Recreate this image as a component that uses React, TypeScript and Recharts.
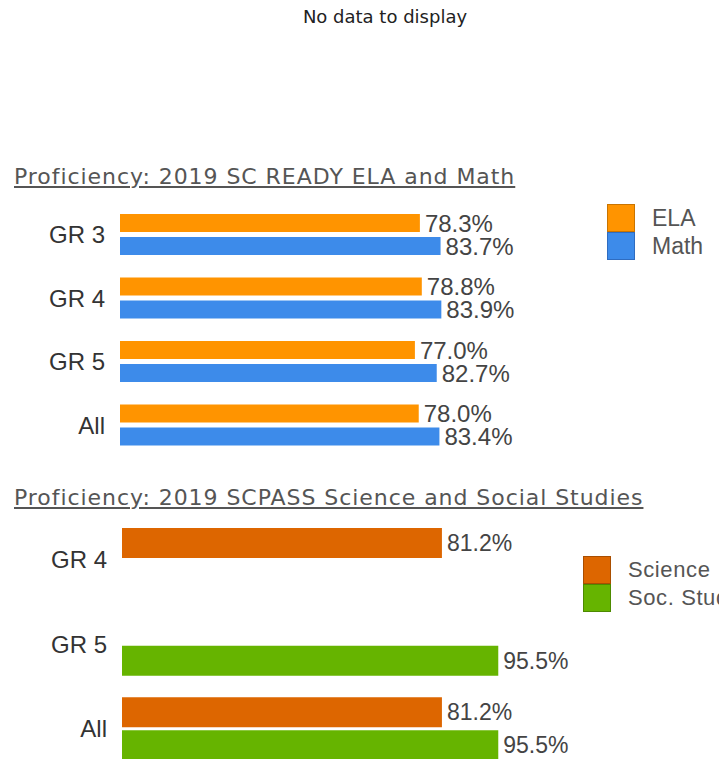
import { BarChart, Bar, XAxis, YAxis, LabelList, Legend } from "recharts";

// ELA / Math (2019 SC READY)
const readyGrades = ["GR 3", "GR 4", "GR 5", "All"];
const elaValues = [78.3, 78.8, 77.0, 78.0];
const mathValues = [83.7, 83.9, 82.7, 83.4];

// Science / Social Studies (2019 SCPASS)
const passGrades = ["GR 4", "GR 5", "All"];
const scienceValues: (number | null)[] = [81.2, null, 81.2];
const socValues: (number | null)[] = [null, 95.5, 95.5];

const readyData = readyGrades.map((g, i) => ({ grade: g, ela: elaValues[i], math: mathValues[i] }));
const passData = passGrades.map((g, i) => ({ grade: g, science: scienceValues[i], soc: socValues[i] }));

const colors = {
  ela: "#ff9400",
  elaBorder: "#c97400",
  math: "#3d8bea",
  mathBorder: "#2f6cc0",
  science: "#dd6600",
  scienceBorder: "#a94e00",
  soc: "#66b400",
  socBorder: "#4d8a00",
};

const pct = (v: any) => (v == null ? "" : `${Number(v).toFixed(1)}%`);

const titleStyle: React.CSSProperties = {
  position: "absolute",
  left: 14,
  fontFamily: "'DejaVu Sans', sans-serif",
  fontSize: 22,
  lineHeight: "24px",
  letterSpacing: 0.95,
  color: "#555",
  textDecoration: "underline",
  whiteSpace: "nowrap",
};

function makeLegend(borders: Record<string, string>, fontSize: number, letterSpacing: number) {
  return (props: any) => {
    const items = props.payload || [];
    return (
      <div>
        {items.map((it: any) => (
          <div key={it.value} style={{ display: "flex", alignItems: "center", height: 28 }}>
            <div
              style={{
                width: 28,
                height: 28,
                boxSizing: "border-box",
                background: it.color,
                border: `1px solid ${borders[it.dataKey] || it.color}`,
              }}
            />
            <span
              style={{
                marginLeft: 17,
                fontFamily: "'Liberation Sans', Arial, sans-serif",
                fontSize,
                letterSpacing,
                color: "#555",
                whiteSpace: "nowrap",
              }}
            >
              {it.value}
            </span>
          </div>
        ))}
      </div>
    );
  };
}

const tickStyle = { fontSize: 24, fill: "#333", fontFamily: "'Liberation Sans', Arial, sans-serif" };

export default function App() {
  return (
    <div
      style={{
        position: "absolute",
        left: 0,
        top: 0,
        width: 719,
        height: 759,
        overflow: "hidden",
        background: "#fff",
      }}
    >
      <div
        style={{
          position: "absolute",
          left: 0,
          width: 770,
          top: 6,
          textAlign: "center",
          fontFamily: "'DejaVu Sans', sans-serif",
          fontSize: 18,
          color: "#222",
        }}
      >
        No data to display
      </div>

      {/* SC READY */}
      <div style={{ ...titleStyle, top: 165 }}>Proficiency: 2019 SC READY ELA and Math</div>
      <div style={{ position: "absolute", left: 0, top: 193 }}>
        <BarChart
          width={719}
          height={264}
          data={readyData}
          layout="vertical"
          margin={{ top: 10, right: 216, bottom: 0, left: 0 }}
          barSize={18}
          barGap={5}
        >
          <XAxis type="number" domain={[0, 100]} hide />
          <YAxis
            type="category"
            dataKey="grade"
            width={120}
            axisLine={false}
            tickLine={false}
            tickSize={0}
            tickMargin={15}
            tick={tickStyle}
          />
          <Legend
            layout="vertical"
            verticalAlign="middle"
            align="center"
            wrapperStyle={{ position: "absolute", top: 11, left: 607, width: 120 }}
            content={makeLegend({ ela: colors.elaBorder, math: colors.mathBorder }, 23, 0)}
          />
          <Bar dataKey="ela" name="ELA" fill={colors.ela} isAnimationActive={false}>
            <LabelList dataKey="ela" position="right" offset={5} formatter={pct} fill="#444" fontSize={24} fontFamily="'Liberation Sans', Arial, sans-serif" />
          </Bar>
          <Bar dataKey="math" name="Math" fill={colors.math} isAnimationActive={false}>
            <LabelList dataKey="math" position="right" offset={5} formatter={pct} fill="#444" fontSize={24} fontFamily="'Liberation Sans', Arial, sans-serif" />
          </Bar>
        </BarChart>
      </div>

      {/* SCPASS */}
      <div style={{ ...titleStyle, top: 486 }}>Proficiency: 2019 SCPASS Science and Social Studies</div>
      <div style={{ position: "absolute", left: 0, top: 507 }}>
        <BarChart
          width={719}
          height={264}
          data={passData}
          layout="vertical"
          margin={{ top: 10, right: 203, bottom: 0, left: 0 }}
          barSize={30}
          barGap={3}
        >
          <XAxis type="number" domain={[0, 100]} hide />
          <YAxis
            type="category"
            dataKey="grade"
            width={122}
            axisLine={false}
            tickLine={false}
            tickSize={0}
            tickMargin={15}
            tick={tickStyle}
          />
          <Legend
            layout="vertical"
            verticalAlign="middle"
            align="center"
            wrapperStyle={{ position: "absolute", top: 49, left: 583, width: 200 }}
            content={makeLegend({ science: colors.scienceBorder, soc: colors.socBorder }, 22, 0.6)}
          />
          <Bar dataKey="science" name="Science" fill={colors.science} isAnimationActive={false}>
            <LabelList dataKey="science" position="right" offset={5} formatter={pct} fill="#444" fontSize={23} fontFamily="'Liberation Sans', Arial, sans-serif" />
          </Bar>
          <Bar dataKey="soc" name="Soc. Studies" fill={colors.soc} isAnimationActive={false}>
            <LabelList dataKey="soc" position="right" offset={5} formatter={pct} fill="#444" fontSize={23} fontFamily="'Liberation Sans', Arial, sans-serif" />
          </Bar>
        </BarChart>
      </div>
    </div>
  );
}
